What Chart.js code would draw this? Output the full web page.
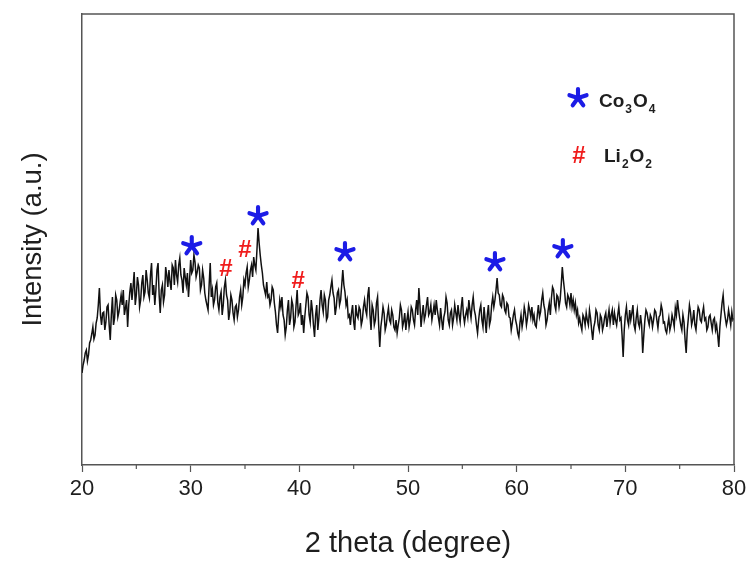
<!DOCTYPE html>
<html>
<head>
<meta charset="utf-8">
<script src="https://cdn.jsdelivr.net/npm/chart.js@4.4.1/dist/chart.umd.min.js"></script>
<style>
  html, body { margin: 0; padding: 0; background: #ffffff; }
  #wrap { width: 752px; height: 561px; }
</style>
</head>
<body>
<div id="wrap"><canvas id="xrd" width="752" height="561"></canvas></div>
<script>
// XRD scan: 2-theta from 20 to 80 degrees, sampled every 0.1 degree
const twoThetaStart = 20;
const twoThetaStep = 0.1;
const intensity = [
  92,100,105,112,115,104,110,122,125,131,138,126,130,142,147,160,177,150,140,152,
  153,135,143,158,160,140,125,150,168,140,147,170,165,148,153,162,170,160,175,150,
  157,165,138,160,173,182,165,178,193,160,170,188,180,158,165,182,190,168,173,195,
  185,172,167,190,202,170,180,160,175,195,202,170,152,175,180,163,170,198,190,178,
  195,183,175,200,197,180,205,190,183,200,207,190,185,172,197,188,180,192,168,185,
  205,192,195,210,203,188,193,200,197,175,180,195,187,172,165,160,155,180,202,168,
  175,160,165,178,182,162,155,168,173,150,160,178,185,170,165,145,153,170,165,152,
  145,158,160,148,155,168,175,160,168,185,180,192,198,178,185,195,200,188,208,200,
  195,215,237,222,210,200,192,180,175,170,183,168,170,160,165,178,175,162,153,140,
  132,150,165,158,168,150,145,130,138,155,165,140,147,165,160,138,143,160,175,150,
  153,162,140,150,132,148,160,172,168,150,143,165,155,140,128,150,160,135,147,165,
  175,160,153,170,165,145,148,165,170,178,185,172,167,150,158,172,175,160,165,180,
  195,180,173,160,165,148,150,140,152,160,143,135,160,150,147,158,155,140,145,158,
  165,155,150,170,178,150,135,160,155,140,145,162,168,140,118,138,147,158,152,135,
  140,150,157,145,142,155,150,138,135,145,132,140,147,160,155,138,143,152,135,145,
  153,138,145,158,155,145,140,155,165,150,177,160,138,150,160,145,150,160,168,150,
  153,160,145,152,160,150,165,155,147,140,157,145,135,148,153,168,162,145,140,152,
  155,140,147,160,152,145,160,150,143,158,168,150,142,150,155,148,165,155,147,160,
  168,155,150,140,132,145,155,160,145,138,158,145,132,150,160,140,145,160,168,158,
  165,175,187,172,170,160,158,170,167,155,152,162,160,148,147,135,142,150,155,145,
  140,132,128,142,150,138,145,158,152,140,147,160,155,148,158,145,150,140,138,150,
  160,148,153,165,172,160,155,140,145,155,162,150,167,178,175,160,155,170,168,158,
  165,180,198,185,175,162,158,170,167,160,172,158,165,155,162,150,155,142,147,140,
  135,150,147,140,152,145,140,155,147,135,125,138,143,155,152,140,135,150,147,135,
  140,148,152,138,147,155,142,150,155,140,152,145,140,150,158,145,147,130,108,135,
  150,158,145,140,155,145,152,160,140,135,147,155,142,138,150,140,112,130,145,155,
  152,145,140,150,147,138,145,155,153,145,137,148,150,160,155,142,143,135,132,140,
  147,135,140,150,145,138,157,150,165,155,147,140,135,150,143,125,112,135,147,160,
  153,140,145,155,140,135,148,158,155,145,143,152,158,145,147,135,138,148,150,142,
  135,145,147,135,140,130,118,138,150,162,170,155,147,140,145,155,148,140,153,145,
  147
];

// Phase markers placed above their reflections (2-theta, height)
const co3o4Theta = [30.1, 36.2, 44.2, 58.0, 64.25];
const co3o4Height = [219, 249, 213, 203, 216];
const li2o2Theta = [33.25, 35.0, 39.9];
const li2o2Height = [197, 216, 185];

const xMin = 20, xMax = 80, yMin = 0, yMax = 451;
const majorTicks = [20, 30, 40, 50, 60, 70, 80];
const minorTicks = [25, 35, 45, 55, 65, 75];

const BLUE = '#1c1ce6';
const RED = '#f01c1c';
const INK = '#1e1e1e';
const AXIS = '#555555';
const FONT = "'Liberation Sans', Arial, Helvetica, sans-serif";

const points = intensity.map((v, i) => ({ x: twoThetaStart + i * twoThetaStep, y: v }));

function drawAsterisk(ctx, cx, cy, r, color) {
  ctx.save();
  ctx.strokeStyle = color;
  ctx.lineWidth = r * 0.46;
  ctx.lineCap = 'round';
  for (let k = 0; k < 5; k++) {
    const a = -Math.PI / 2 + k * 2 * Math.PI / 5;
    ctx.beginPath();
    ctx.moveTo(cx, cy);
    ctx.lineTo(cx + r * Math.cos(a), cy + r * Math.sin(a));
    ctx.stroke();
  }
  ctx.restore();
}

function drawHash(ctx, cx, cy, size, color) {
  ctx.save();
  ctx.fillStyle = color;
  ctx.font = 'bold ' + size + 'px ' + FONT;
  ctx.textAlign = 'center';
  ctx.textBaseline = 'alphabetic';
  ctx.fillText('#', cx, cy + size * 0.35);
  ctx.restore();
}

// Formula with subscripts, e.g. [['Co',0],['3',1],['O',0],['4',1]]
function drawFormula(ctx, x, baseline, parts, size) {
  ctx.save();
  ctx.fillStyle = INK;
  ctx.textAlign = 'left';
  ctx.textBaseline = 'alphabetic';
  let cx = x;
  for (const [txt, sub] of parts) {
    if (sub) {
      ctx.font = 'bold ' + Math.round(size * 0.63) + 'px ' + FONT;
      ctx.fillText(txt, cx, baseline + size * 0.34);
    } else {
      ctx.font = 'bold ' + size + 'px ' + FONT;
      ctx.fillText(txt, cx, baseline);
    }
    cx += ctx.measureText(txt).width + 1;
  }
  ctx.restore();
}

const framePlugin = {
  id: 'frame',
  afterDraw(chart) {
    const { ctx, chartArea: a, scales } = chart;
    ctx.save();
    ctx.strokeStyle = AXIS;
    ctx.lineWidth = 1.5;
    ctx.beginPath();
    ctx.moveTo(a.left, a.top);
    ctx.lineTo(a.right, a.top);
    ctx.lineTo(a.right, a.bottom);
    ctx.stroke();
    // minor ticks on the 2-theta axis
    ctx.lineWidth = 1.2;
    for (const t of minorTicks) {
      const px = scales.x.getPixelForValue(t);
      ctx.beginPath();
      ctx.moveTo(px, a.bottom);
      ctx.lineTo(px, a.bottom + 4);
      ctx.stroke();
    }
    ctx.restore();
  }
};

const markerPlugin = {
  id: 'phaseMarkers',
  afterDatasetsDraw(chart) {
    const { ctx, scales: { x, y } } = chart;
    co3o4Theta.forEach((t, i) => {
      drawAsterisk(ctx, x.getPixelForValue(t), y.getPixelForValue(co3o4Height[i]), 9, BLUE);
    });
    li2o2Theta.forEach((t, i) => {
      drawHash(ctx, x.getPixelForValue(t), y.getPixelForValue(li2o2Height[i]), 24, RED);
    });
    // key
    drawAsterisk(ctx, 578, 98, 9, BLUE);
    drawFormula(ctx, 599, 107, [['Co', 0], ['3', 1], ['O', 0], ['4', 1]], 19);
    drawHash(ctx, 579, 155, 24, RED);
    drawFormula(ctx, 604, 162, [['Li', 0], ['2', 1], ['O', 0], ['2', 1]], 19);
  }
};

new Chart(document.getElementById('xrd'), {
  type: 'line',
  data: {
    datasets: [{
      data: points,
      borderColor: '#111111',
      borderWidth: 1.5,
      pointRadius: 0,
      tension: 0,
      fill: false
    }]
  },
  options: {
    responsive: false,
    animation: false,
    devicePixelRatio: 1,
    parsing: false,
    layout: { padding: { top: 14, right: 18, left: 0, bottom: 0 } },
    plugins: { legend: { display: false }, tooltip: { enabled: false } },
    scales: {
      x: {
        type: 'linear',
        min: xMin,
        max: xMax,
        afterBuildTicks(scale) { scale.ticks = majorTicks.map(v => ({ value: v })); },
        ticks: {
          autoSkip: false,
          maxRotation: 0,
          color: INK,
          padding: 4,
          font: { family: FONT, size: 22 }
        },
        grid: { drawOnChartArea: false, tickLength: 7, color: AXIS, tickWidth: 1.2 },
        border: { color: AXIS, width: 1.5 },
        title: {
          display: true,
          text: '2 theta (degree)',
          color: INK,
          font: { family: FONT, size: 29 },
          padding: { top: 0, bottom: 0 }
        },
        afterFit(scale) { scale.height = 96; }
      },
      y: {
        min: yMin,
        max: yMax,
        ticks: { display: false },
        grid: { display: false },
        border: { display: true, color: AXIS, width: 1.5 },
        title: {
          display: true,
          text: 'Intensity (a.u.)',
          color: INK,
          font: { family: FONT, size: 27.5 },
          padding: { top: 17, bottom: 0 }
        },
        afterFit(scale) { scale.width = 82; }
      }
    }
  },
  plugins: [framePlugin, markerPlugin]
});
</script>
</body>
</html>
